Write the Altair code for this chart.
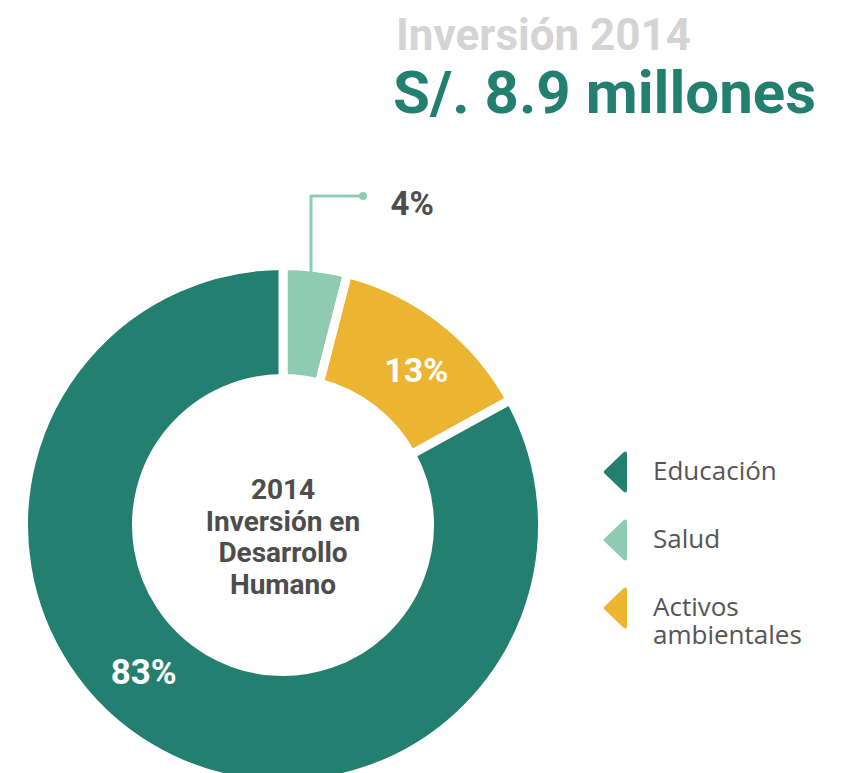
import altair as alt
import pandas as pd

# ---- data ----
categories = ["Salud", "Activos ambientales", "Educación"]
values = [4, 13, 83]
stack_order = [1, 2, 3]
pct_labels = ["4%", "13%", "83%"]
legend_order = ["Educación", "Salud", "Activos ambientales"]
legend_colors = ["#237F6F", "#8FCBB0", "#EBB431"]
title_line1 = "Inversión 2014"
title_line2 = "S/. 8.9 millones"
center_lines = ["2014", "Inversión en", "Desarrollo", "Humano"]

df = pd.DataFrame({"cat": categories, "value": values, "ord": stack_order, "label": pct_labels})
one = pd.DataFrame({"center": ["\n".join(center_lines)], "t1": [title_line1], "t2": [title_line2]})

CX, CY = 275, 517
HEAVY = "Roboto, sans-serif"
LIGHT = "Open Sans, Noto Sans, sans-serif"
DARK = "#4D4D4D"

color_scale = alt.Scale(domain=legend_order, range=legend_colors)
tri = "M0.42,-0.96 Q0.585,-1.07 0.585,-0.84 L0.585,0.84 Q0.585,1.07 0.42,0.96 L-0.5,0.09 Q-0.6,0 -0.5,-0.09 Z"

legend = alt.Legend(
    title=None, orient="none", legendX=586.5, legendY=443.5, direction="vertical",
    symbolType=tri, symbolSize=1681, symbolStrokeWidth=0, symbolOpacity=1,
    labelFont=LIGHT, labelFontSize=26, labelColor="#555555", labelOffset=17.5,
    labelLimit=400, rowPadding=27, padding=0, labelBaseline="middle",
    labelExpr="indexof(datum.label, ' ') > 0 ? split(datum.label, ' ') : datum.label",
)

base = alt.Chart(df)
theta = alt.Theta("value:Q", stack=True)
order = alt.Order("ord:Q")

arcs = base.mark_arc(radius=259.5, radius2=146.5, stroke="white", strokeWidth=9).encode(
    theta=theta, order=order,
    color=alt.Color("cat:N", scale=color_scale, legend=legend),
    x=alt.value(CX), y=alt.value(CY),
)

def pct_text(cat, color, radius, dx, dy, size):
    return base.transform_calculate(
        t=f"datum.cat === '{cat}' ? datum.label : ''"
    ).mark_text(radius=radius, dx=dx, dy=dy, font=HEAVY, fontWeight="bold",
                fontSize=size, color=color).encode(
        theta=theta, order=order, detail="cat:N", text="t:N",
        x=alt.value(CX), y=alt.value(CY),
    )

t13 = pct_text("Activos ambientales", "white", 203, 9, 7, 34)
t83 = pct_text("Educación", "white", 203, -36, -27, 35)
t4 = pct_text("Salud", DARK, 321, 89, -2, 33)

lead_c = "#8FCDB3"
ann = alt.Chart(one)
lead_v = ann.mark_rule(color=lead_c, strokeWidth=3).encode(
    x=alt.value(303), y=alt.value(264), y2=alt.value(187))
lead_h = ann.mark_rule(color=lead_c, strokeWidth=3).encode(
    x=alt.value(302), x2=alt.value(355), y=alt.value(188))
dot = ann.mark_circle(color=lead_c, size=64, opacity=1).encode(
    x=alt.value(355), y=alt.value(188))

center = ann.mark_text(font=HEAVY, fontWeight="bold", fontSize=28, color=DARK,
                       lineBreak="\n", lineHeight=31.5, align="center",
                       baseline="middle").encode(
    text="center:N", x=alt.value(CX), y=alt.value(483))

title1 = ann.mark_text(font=HEAVY, fontWeight="bold", fontSize=44, color="#D4D4D4",
                       align="left", baseline="alphabetic").encode(
    text="t1:N", x=alt.value(388), y=alt.value(42))
title2 = ann.mark_text(font=HEAVY, fontWeight="bold", fontSize=60, color="#237F6F",
                       align="left", baseline="alphabetic").encode(
    text="t2:N", x=alt.value(385), y=alt.value(105))

chart = alt.layer(arcs, t13, t83, t4, lead_v, lead_h, dot, center, title1, title2).properties(
    width=829, height=765, padding=0, autosize=alt.AutoSizeParams(type="none"),
    background="white",
).configure_view(stroke=None)

chart.save("out.html", embed_options={"renderer": "svg", "actions": False})
